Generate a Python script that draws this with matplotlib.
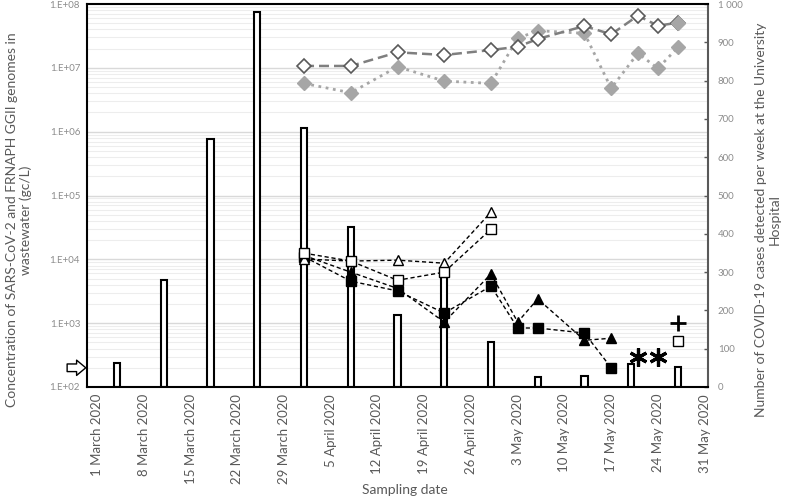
import numpy as np
import pandas as pd
import matplotlib
matplotlib.use('Agg')
import matplotlib.pyplot as plt

plt.rcParams['font.family'] = ['Lato', 'DejaVu Sans']

nan = np.nan

# weekly COVID-19 cases at the University Hospital (right axis)
week_dates = pd.to_datetime(['2020-03-04', '2020-03-11', '2020-03-18', '2020-03-25',
                             '2020-04-01', '2020-04-08', '2020-04-15', '2020-04-22',
                             '2020-04-29', '2020-05-06', '2020-05-13', '2020-05-20',
                             '2020-05-27'])
weekly_cases = [62, 280, 648, 979, 676, 418, 188, 287, 118, 27, 28, 60, 52]

# wastewater sampling (left axis, gc/L)
sample_dates = pd.to_datetime(['2020-04-01', '2020-04-08', '2020-04-15', '2020-04-22',
                               '2020-04-29', '2020-05-03', '2020-05-06', '2020-05-13',
                               '2020-05-17', '2020-05-21', '2020-05-24', '2020-05-27'])
sars_open_tri = [10100, 9400, 9700, 8700, 54900, nan, nan, nan, nan, nan, nan, nan]
sars_open_sq = [12500, 9400, 4700, 6300, 29700, nan, nan, nan, nan, nan, nan, 520]
sars_fill_tri = [11500, 6300, 3500, 1040, 5900, 1040, 2400, 540, 580, nan, nan, nan]
sars_fill_sq = [11000, 4550, 3200, 1440, 3800, 840, 840, 700, 200, nan, nan, nan]
ggii_open = [1.07e7, 1.07e7, 1.75e7, 1.59e7, 1.90e7, 2.14e7, 2.83e7, 4.52e7,
             3.35e7, 6.56e7, 4.57e7, 5.1e7]
ggii_fill = [5.7e6, 4.07e6, 1.04e7, 6.2e6, 5.7e6, 2.9e7, 3.82e7, 3.47e7,
             4.78e6, 1.69e7, 9.8e6, 2.1e7]

star_dates = pd.to_datetime(['2020-05-21', '2020-05-24'])
star_vals = [290, 290]
plus_dates = pd.to_datetime(['2020-05-27'])
plus_vals = [1000]
lod = 200

date_ticks = pd.date_range('2020-03-01', '2020-05-31', freq='7D')
date_labels = [f"{d.day} {d.strftime('%B')} 2020" for d in date_ticks]

fig = plt.figure(figsize=(7.89, 4.99), dpi=100)
ax = fig.add_axes([87 / 789, 1 - 387 / 499, 621 / 789, 383 / 499])
ax2 = ax.twinx()

# log grid drawn on the bottom layer so bars cover it
for d in range(2, 8):
    for m in range(1, 10):
        y = 1000 * (np.log10(m * 10 ** d) - 2) / 6
        if m == 1:
            ax.axhline(y, color='#d9d9d9', lw=1.0, zorder=0)
        else:
            ax.axhline(y, color='#ededed', lw=0.8, zorder=0)

ax.bar(week_dates, weekly_cases, width=0.95, color='white', edgecolor='black',
       linewidth=1.5, zorder=2)
ax.set_ylim(0, 1000)
ax.set_xlim(pd.Timestamp('2020-02-28 12:00'), pd.Timestamp('2020-05-31 12:00'))
ax.yaxis.tick_right()
ax.set_yticks(range(0, 1001, 100))
ax.set_yticklabels(['1 000' if v == 1000 else str(v) for v in range(0, 1001, 100)])
ax.tick_params(axis='y', direction='in', length=3, width=1, color='#595959',
               labelcolor='#8c8c8c', labelsize=7, pad=7)
ax.set_xticks(date_ticks)
ax.set_xticklabels(date_labels, rotation=90)
ax.tick_params(axis='x', length=0, labelsize=9.5, labelcolor='#595959', pad=5)
for s in ['left', 'top', 'bottom']:
    ax.spines[s].set_color('black')
    ax.spines[s].set_linewidth(1.5)
ax.spines['right'].set_color('#595959')
ax.spines['right'].set_linewidth(1.5)

ax2.set_yscale('log')
ax2.set_ylim(1e2, 1e8)
ax2.yaxis.tick_left()
ax2.set_yticks([10 ** k for k in range(2, 9)])
ax2.set_yticklabels([f'1.E+0{k}' for k in range(2, 9)])
ax2.minorticks_off()
ax2.tick_params(axis='y', length=0, labelcolor='#8c8c8c', labelsize=7, pad=5)
for s in ax2.spines.values():
    s.set_visible(False)

ax2.plot(sample_dates, ggii_fill, ls=':', color='#a6a6a6', lw=2, marker='D', ms=7,
         mfc='#a6a6a6', mec='#a6a6a6', zorder=3)
ax2.plot(sample_dates, ggii_open, ls='--', dashes=(4, 2), color='#7f7f7f', lw=1.8,
         marker='D', ms=7, mfc='white', mec='#595959', mew=1.2, zorder=3)
ax2.plot(sample_dates[-1:], ggii_open[-1:], ls='none', marker='D', ms=7,
         color='#a6a6a6', zorder=4)

kw = dict(ls='--', dashes=(3, 2), color='black', lw=1, zorder=5)
ax2.plot(sample_dates, sars_fill_tri, marker='^', ms=7, mfc='black', mec='black', **kw)
ax2.plot(sample_dates, sars_fill_sq, marker='s', ms=6.5, mfc='black', mec='black', **kw)
ax2.plot(sample_dates, sars_open_tri, marker='^', ms=7, mfc='white', mec='black', **kw)
ax2.plot(sample_dates, sars_open_sq, marker='s', ms=6.5, mfc='white', mec='black', **kw)

ax2.plot(star_dates, star_vals, ls='none', marker=(6, 2, 0), ms=13, mew=2.3,
         color='black', zorder=6)
ax2.plot(plus_dates, plus_vals, ls='none', marker='+', ms=11, mew=2,
         color='black', zorder=6)

# limit of detection arrow
ax2.annotate('', xy=(-0.002, lod), xytext=(-0.032, lod),
             xycoords=('axes fraction', 'data'), textcoords=('axes fraction', 'data'),
             arrowprops=dict(arrowstyle='simple,head_length=0.6,head_width=1.0,tail_width=0.5',
                             fc='white', ec='black', lw=1, mutation_scale=11,
                             shrinkA=0, shrinkB=0),
             annotation_clip=False)

fig.text(19 / 789, 1 - 220 / 499,
         'Concentration of SARS-CoV-2 and FRNAPH GGII genomes in\nwastewater (gc/L)',
         rotation=90, ha='center', va='center', multialignment='center',
         fontsize=10, color='#595959')
fig.text(768 / 789, 1 - 220 / 499,
         'Number of COVID-19 cases detected per week at the University\nHospital',
         rotation=90, ha='center', va='center', multialignment='center',
         fontsize=10, color='#595959')
fig.text(405 / 789, 1 - 490 / 499, 'Sampling date', ha='center', va='center',
         fontsize=10, color='#595959')

fig.savefig('out.png', dpi=100)
